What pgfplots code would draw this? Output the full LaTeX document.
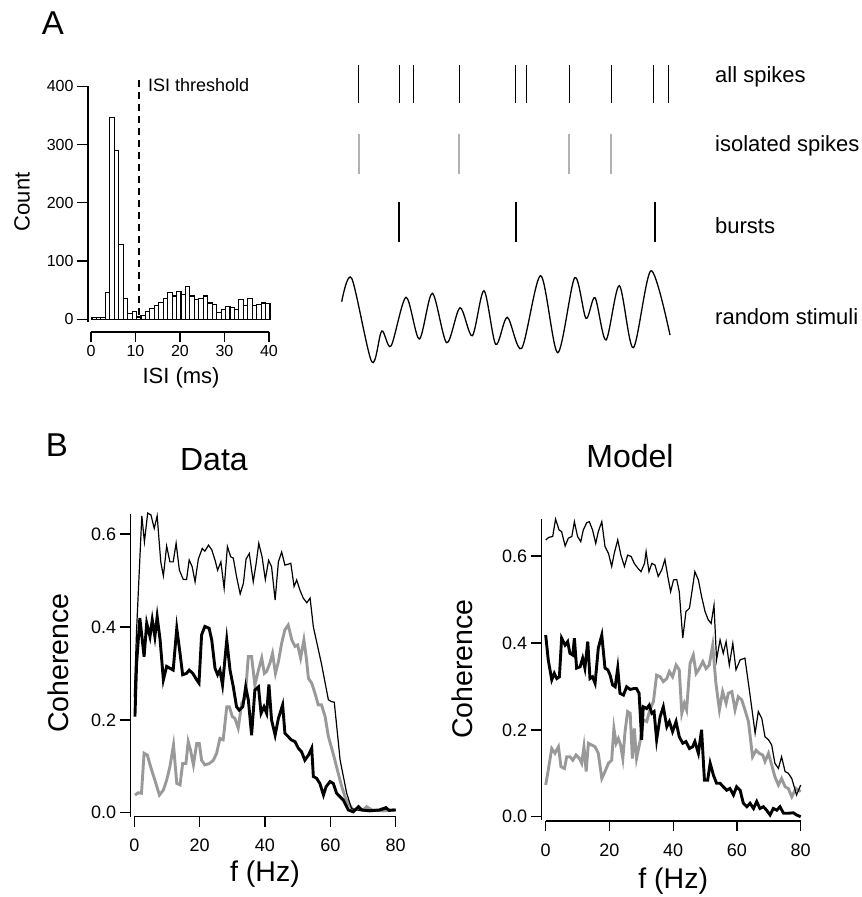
\documentclass[border=0pt]{standalone}
\usepackage{fontspec}
\setmainfont{Liberation Sans}
\usepackage{pgfplots}
\pgfplotsset{compat=1.18}
\newcommand\fs[1]{\fontsize{#1}{#1}\selectfont}
\definecolor{cgray}{gray}{0.6}
\definecolor{sgray}{gray}{0.7}
\pgfplotsset{
  yonly/.style={scale only axis, axis y line=left, axis x line=none,
    axis line style={-, line width=1.4pt}, tick align=outside, major tick length=11pt,
    ytick style={line width=1.4pt, black}, clip=false,
    /pgf/number format/assume math mode=true},
  xonly/.style={scale only axis, axis x line=bottom, axis y line=none,
    axis line style={-, line width=1.4pt}, tick align=outside, major tick length=10pt,
    xtick style={line width=1.4pt, black}, ymin=0, ymax=1, height=10pt,
    /pgf/number format/assume math mode=true},
  cohy/.style={yonly, ytick={0,0.2,0.4,0.6},
    yticklabel style={font=\fs{18}, /pgf/number format/fixed, /pgf/number format/fixed zerofill, /pgf/number format/precision=1}},
  cohx/.style={xonly, xmin=0, xmax=80, xtick={0,20,40,60,80}, xticklabel style={font=\fs{18}, yshift=-9pt}},
}
\begin{document}
\begin{tikzpicture}
\useasboundingbox (0pt,0pt) rectangle (862pt,-897pt);
% ---------------- Histogram ----------------
\begin{axis}[yonly, at={(88pt,-86.3pt)}, anchor=north west,
  width=182pt, height=235.9pt, xmin=-0.65, xmax=40.25, ymin=-5, ymax=400,
  ytick={0,100,200,300,400}, yticklabel style={font=\fs{16}},
  ylabel={Count}, ylabel style={at={(axis description cs:-0.363,0.51)}, anchor=center, font=\fs{22}}]
\addplot[ybar interval, fill=white, draw=black, line width=1.1pt] coordinates {
(0.25,3) (1.25,3) (2.25,3) (3.25,46) (4.25,347) (5.25,290) (6.25,129) (7.25,35)
(8.25,10) (9.25,14) (10.25,4) (11.25,6) (12.25,13) (13.25,19) (14.25,24) (15.25,29)
(16.25,36) (17.25,46) (18.25,40) (19.25,47) (20.25,42) (21.25,57) (22.25,40) (23.25,34)
(24.25,36) (25.25,40) (26.25,28) (27.25,26) (28.25,12) (29.25,17) (30.25,22) (31.25,21)
(32.25,17) (33.25,34) (34.25,23) (35.25,35) (36.25,23) (37.25,26) (38.25,28) (39.25,27)
(40.25,27)};
\addplot[black, line width=2.4pt, dash pattern=on 7pt off 5pt] coordinates {(10.8,7) (10.8,415)};
\end{axis}
\begin{axis}[xonly, at={(91pt,-332pt)}, anchor=south west, width=178pt,
  xmin=0, xmax=40, xtick={0,10,20,30,40}, xticklabel style={font=\fs{16}},
  xlabel={ISI (ms)}, xlabel style={at={(axis description cs:0.506,0)}, anchor=center, yshift=-46pt, font=\fs{22}}]
\end{axis}
\node[anchor=west, inner sep=0pt, font=\fs{18}] at (148pt,-85pt) {ISI threshold};
% ---------------- Raster + stimulus ----------------
\begin{axis}[hide axis, scale only axis, at={(330pt,-60pt)}, anchor=north west,
  width=360pt, height=310pt, xmin=330, xmax=690, ymin=60, ymax=370, y dir=reverse,
  clip=false, unbounded coords=jump]
\addplot[black, line width=1.0pt] coordinates {
(358.7,65) (358.7,103) (358.7,nan) (399,65) (399,103) (399,nan) (413,65) (413,103) (413,nan)
(459.7,65) (459.7,103) (459.7,nan) (515.7,65) (515.7,103) (515.7,nan) (526.7,65) (526.7,103) (526.7,nan)
(569.3,65) (569.3,103) (569.3,nan) (611,65) (611,103) (611,nan) (653.3,65) (653.3,103) (653.3,nan)
(668,65) (668,103)};
\addplot[sgray, line width=1.7pt] coordinates {
(358.7,134) (358.7,174) (358.7,nan) (459.3,134) (459.3,174) (459.3,nan)
(569.3,134) (569.3,174) (569.3,nan) (611,134) (611,174)};
\addplot[black, line width=2.4pt] coordinates {
(399,201.7) (399,241.7) (399,nan) (515.7,201.7) (515.7,241.7) (515.7,nan) (655,201.7) (655,241.7)};
\addplot[black, line width=1.3pt, smooth] coordinates {
(341.7,301.7) (351.7,278.3) (371.7,361.7) (381.7,331) (391,346) (406,297.3) (419.3,339)
(432.3,293.3) (446.7,342.7) (460,307.7) (472.3,335.7) (484,290.7) (495.7,344.3) (507.3,317.3)
(521.7,348.3) (540.7,275.7) (557.7,352.7) (574.7,277.7) (586,318.3) (595,297.7) (606,340)
(619.3,285.7) (633.3,347.7) (651,270.7) (670,335)};
\end{axis}
\node[anchor=west, inner sep=0pt, font=\fs{22}] at (715pt,-77pt) {all spikes};
\node[anchor=west, inner sep=0pt, font=\fs{22}] at (715pt,-146pt) {isolated spikes};
\node[anchor=west, inner sep=0pt, font=\fs{22}] at (715pt,-226pt) {bursts};
\node[anchor=west, inner sep=0pt, font=\fs{22}] at (715pt,-317pt) {random stimuli};
\node[font=\fs{33}] at (53pt,-23pt) {A};
\node[font=\fs{33}] at (57pt,-445pt) {B};
% ---------------- Data coherence ----------------
\begin{axis}[cohy, at={(130.7pt,-514pt)}, anchor=north west, width=265pt, height=302.9pt,
  xmin=-1.1, xmax=80, ymin=-0.009, ymax=0.643,
  ylabel={Coherence}, ylabel style={at={(axis description cs:-0.274,0.508)}, anchor=center, font=\fs{28.5}},
  title={Data}, title style={at={(axis description cs:0.314,1.16)}, anchor=center, yshift=0pt, font=\fs{32}}]
\addplot[cgray, line width=2.9pt] coordinates {
(0.2,0.038) (1.2,0.043) (2.2,0.042) (3.0,0.128) (4.0,0.124) (5.0,0.099) (6.3,0.070) (7.7,0.038)
(8.9,0.049) (9.9,0.070) (10.9,0.099) (12.0,0.146) (13.0,0.063) (14.0,0.060) (14.8,0.106) (15.8,0.106)
(16.5,0.153) (17.2,0.135) (18.1,0.103) (19.1,0.149) (19.9,0.149) (20.6,0.113) (21.6,0.103) (23.0,0.106)
(24.2,0.113) (25.2,0.128) (26.2,0.160) (27.2,0.157) (28.3,0.228) (29.1,0.228) (30.0,0.207) (30.8,0.203)
(31.8,0.182) (32.9,0.236) (33.9,0.246) (34.9,0.336) (35.9,0.336) (36.9,0.275) (38.0,0.307) (39.0,0.333)
(39.8,0.300) (40.5,0.304) (41.5,0.322) (42.3,0.343) (43.2,0.300) (44.1,0.325) (45.1,0.365) (46.1,0.394)
(47.1,0.404) (48.2,0.372) (49.2,0.358) (50.0,0.361) (50.9,0.333) (51.9,0.372) (52.6,0.336) (53.3,0.289)
(54.3,0.279) (55.3,0.257) (56.3,0.232) (57.3,0.232) (58.4,0.207) (59.4,0.164) (60.4,0.139) (61.4,0.113)
(62.4,0.085) (63.5,0.056) (64.5,0.034) (65.5,0.020) (67.0,0.006) (68.6,0.009) (70.1,0.006) (71.1,0.013)
(72.7,0.006) (76.2,0.004) (78.8,0.006) (80,0.006)};
\addplot[black, line width=2.9pt] coordinates {
(0.2,0.207) (0.7,0.32) (1.7,0.419) (3.0,0.336) (3.8,0.408) (4.8,0.379) (5.5,0.415) (6.3,0.379)
(7.0,0.422) (7.9,0.372) (8.9,0.286) (9.9,0.315) (10.9,0.311) (11.9,0.307) (13.0,0.397) (14.0,0.343)
(14.8,0.297) (16.0,0.300) (16.8,0.307) (17.9,0.300) (19.1,0.286) (19.8,0.279) (20.6,0.383) (21.6,0.401)
(22.9,0.397) (23.7,0.372) (24.7,0.311) (25.5,0.297) (26.2,0.307) (27.0,0.275) (28.3,0.372) (29.3,0.307)
(30.3,0.271) (31.3,0.228) (32.1,0.221) (33.2,0.228) (34.1,0.271) (34.9,0.243) (35.9,0.167) (36.9,0.264)
(38.0,0.271) (38.8,0.214) (39.7,0.228) (40.5,0.214) (41.2,0.276) (42.0,0.200) (43.1,0.167) (44.1,0.203)
(45.4,0.232) (46.1,0.171) (47.1,0.164) (48.0,0.157) (49.2,0.153) (50.2,0.139) (51.2,0.131) (52.2,0.113)
(53.3,0.124) (54.3,0.139) (54.8,0.078) (55.8,0.074) (56.8,0.063) (57.9,0.038) (58.7,0.056) (59.9,0.067)
(60.9,0.063) (61.9,0.042) (63.0,0.034) (64.0,0.027) (65.5,0.006) (67.0,0.002) (68.6,0.013) (69.6,0.006)
(72,0.004) (75,0.006) (77,0.011) (78,0.005) (80,0.006)};
\addplot[black, line width=1.2pt] coordinates {
(0,0.25) (0.7,0.393) (2.3,0.639) (3.1,0.583) (4.1,0.645) (5.1,0.641) (6.1,0.612) (7.0,0.639)
(8.1,0.540) (8.9,0.510) (9.9,0.574) (10.9,0.540) (11.9,0.540) (12.8,0.580) (13.8,0.522) (15.0,0.502)
(16.0,0.502) (16.8,0.544) (17.7,0.530) (18.6,0.497) (19.6,0.546) (20.8,0.569) (21.6,0.563) (22.7,0.576)
(23.7,0.566) (24.7,0.544) (25.5,0.522) (26.5,0.540) (27.5,0.483) (28.5,0.573) (29.5,0.551) (30.3,0.548)
(31.3,0.508) (32.4,0.471) (33.4,0.494) (34.2,0.546) (35.2,0.558) (36.4,0.497) (37.3,0.537) (38.1,0.580)
(39.1,0.551) (40.1,0.502) (41.1,0.543) (42.0,0.530) (43.1,0.458) (44.1,0.540) (45.1,0.561) (46.1,0.533)
(47.1,0.535) (47.9,0.537) (48.9,0.487) (49.7,0.501) (50.7,0.479) (51.7,0.462) (52.8,0.452) (53.8,0.462)
(54.8,0.400) (57.3,0.32) (59.4,0.243) (60.4,0.239) (61.2,0.238) (63,0.113) (65,0.042) (66.5,0.009)
(68,0.006) (70,0.004) (72,0.006) (75,0.004) (77,0.008) (80,0.005)};
\end{axis}
\begin{axis}[cohx, at={(134.3pt,-816.7pt)}, anchor=south west, width=261.3pt,
  xlabel={f (Hz)}, xlabel style={at={(axis description cs:0.5,0)}, anchor=center, yshift=-57pt, font=\fs{28.5}}]
\end{axis}
% ---------------- Model coherence ----------------
\begin{axis}[cohy, at={(541.7pt,-519.3pt)}, anchor=north west, width=259pt, height=300.7pt,
  xmin=-1.25, xmax=80, ymin=-0.0076, ymax=0.6845,
  ylabel={Coherence}, ylabel style={at={(axis description cs:-0.306,0.502)}, anchor=center, font=\fs{28.5}},
  title={Model}, title style={at={(axis description cs:0.341,1.19)}, anchor=center, yshift=0pt, font=\fs{32}}]
\addplot[cgray, line width=2.9pt] coordinates {
(0,0.073) (0.8,0.107) (1.9,0.157) (2.9,0.146) (4.0,0.161) (4.8,0.115) (5.9,0.111) (6.6,0.138)
(7.6,0.138) (8.5,0.130) (9.5,0.142) (10.6,0.134) (11.3,0.123) (12.0,0.161) (12.7,0.104) (13.4,0.169)
(14.4,0.165) (15.5,0.161) (16.5,0.146) (17.6,0.088) (18.6,0.104) (19.7,0.123) (20.7,0.130) (21.4,0.203)
(22.1,0.169) (22.8,0.180) (23.5,0.165) (24.2,0.134) (24.9,0.196) (25.7,0.242) (26.5,0.238) (27.2,0.134)
(27.8,0.203) (28.5,0.134) (29.6,0.173) (30.6,0.223) (31.7,0.219) (32.7,0.246) (33.8,0.265) (34.8,0.326)
(35.9,0.322) (36.9,0.311) (38.0,0.318) (38.8,0.334) (39.8,0.322) (40.9,0.349) (41.9,0.338) (42.7,0.238)
(43.5,0.261) (44.2,0.246) (45.3,0.353) (46.3,0.372) (47.2,0.330) (48.2,0.341) (49.3,0.357) (50.3,0.341)
(51.3,0.349) (52.4,0.395) (53.4,0.307) (54.5,0.246) (55.5,0.288) (56.6,0.261) (57.3,0.284) (58.4,0.288)
(59.4,0.246) (60.4,0.276) (61.5,0.269) (62.5,0.246) (63.6,0.219) (64.9,0.138) (66.0,0.153) (67.0,0.146)
(68.1,0.142) (68.8,0.127) (69.9,0.146) (70.9,0.119) (71.9,0.092) (73.0,0.073) (74.0,0.088) (75.1,0.069)
(76.1,0.065) (77.2,0.046) (78.5,0.065) (80.0,0.058)};
\addplot[black, line width=2.9pt] coordinates {
(0,0.418) (0.8,0.361) (1.9,0.315) (2.7,0.330) (3.5,0.318) (4.3,0.322) (5.0,0.411) (6.1,0.395)
(6.9,0.403) (7.6,0.376) (8.5,0.372) (9.0,0.411) (9.7,0.342) (10.8,0.345) (11.6,0.365) (12.3,0.342)
(13.2,0.403) (13.9,0.318) (14.7,0.322) (15.5,0.307) (16.5,0.388) (17.6,0.418) (18.6,0.342) (19.5,0.338)
(20.2,0.326) (21.0,0.303) (21.8,0.299) (22.6,0.342) (23.3,0.284) (24.4,0.280) (25.4,0.299) (26.5,0.293)
(27.7,0.295) (28.5,0.295) (29.3,0.284) (30.1,0.177) (30.6,0.253) (31.7,0.249) (32.5,0.257) (33.3,0.238)
(34.0,0.242) (34.8,0.177) (35.9,0.230) (36.9,0.253) (38.0,0.207) (38.8,0.219) (39.8,0.196) (40.9,0.219)
(41.9,0.184) (43.0,0.169) (44.0,0.173) (45.1,0.157) (46.1,0.161) (46.8,0.173) (47.9,0.146) (48.9,0.200)
(49.8,0.084) (50.8,0.084) (51.6,0.123) (52.6,0.096) (53.6,0.077) (54.7,0.077) (55.7,0.069) (56.8,0.061)
(57.8,0.065) (58.9,0.050) (59.9,0.069) (61.0,0.061) (62.0,0.031) (63.1,0.023) (64.1,0.031) (65.2,0.019)
(66.2,0.035) (67.2,0.019) (68.3,0.023) (69.3,0.015) (70.4,0.004) (71.4,0.019) (72.5,0.015) (73.5,0.023)
(74.6,0.008) (76.1,0.008) (77.7,0.009) (78.7,0.004) (80.0,0.000)};
\addplot[black, line width=1.2pt] coordinates {
(0,0.637) (1.0,0.643) (2.2,0.645) (3.1,0.685) (4.2,0.660) (5.0,0.656) (6.1,0.623) (7.1,0.641)
(8.2,0.645) (9.0,0.679) (10.0,0.645) (11.0,0.633) (11.8,0.660) (12.9,0.677) (13.7,0.679) (14.7,0.660)
(15.7,0.629) (16.5,0.656) (17.6,0.679) (18.6,0.622) (19.7,0.606) (20.7,0.576) (21.5,0.606) (22.6,0.637)
(23.6,0.602) (24.7,0.576) (25.7,0.602) (26.8,0.599) (27.8,0.583) (28.9,0.572) (29.9,0.564) (31.0,0.583)
(31.5,0.610) (32.4,0.564) (33.3,0.583) (34.3,0.579) (35.3,0.553) (36.4,0.568) (37.4,0.592) (38.3,0.553)
(39.2,0.518) (40.1,0.545) (41.1,0.546) (41.9,0.518) (43.0,0.411) (44.0,0.472) (45.1,0.480) (45.8,0.514)
(46.8,0.564) (47.9,0.545) (48.9,0.507) (50.0,0.472) (51.0,0.453) (51.9,0.445) (52.8,0.487) (53.6,0.361)
(54.7,0.407) (55.7,0.376) (56.6,0.403) (57.6,0.349) (58.7,0.399) (59.7,0.338) (61.0,0.361) (62.5,0.365)
(63.6,0.307) (64.6,0.253) (65.7,0.192) (66.7,0.242) (67.8,0.226) (68.8,0.184) (69.9,0.177) (70.9,0.165)
(71.9,0.123) (73.0,0.111) (74.0,0.138) (75.1,0.104) (76.1,0.100) (77.2,0.088) (78.7,0.050) (80.0,0.073)};
\end{axis}
\begin{axis}[cohx, at={(545.7pt,-821pt)}, anchor=south west, width=255pt,
  xlabel={f (Hz)}, xlabel style={at={(axis description cs:0.5,0)}, anchor=center, yshift=-60pt, font=\fs{28.5}}]
\end{axis}
\end{tikzpicture}
\end{document}
